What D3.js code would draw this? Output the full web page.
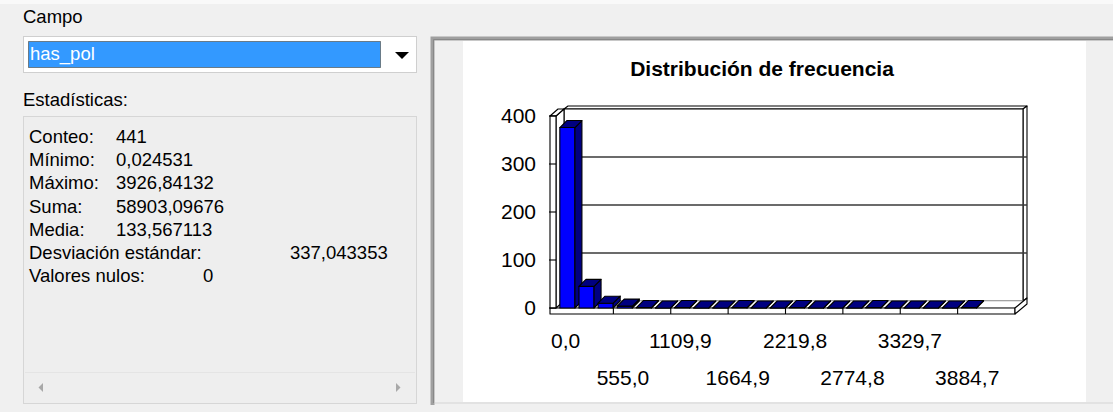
<!DOCTYPE html>
<head>
  <meta charset="utf-8">
  <script type="text/javascript" src="https://cdnjs.cloudflare.com/ajax/libs/d3/7.8.5/d3.min.js"></script>
  <style>
    body { margin: 0; background: #f0f0f0; }
    svg { display: block; font-family: "Liberation Sans", Arial, sans-serif; }
  </style>
</head>
<body>
  <script>

  // frequency counts per bin (441 values in total)
  var counts = [376, 45, 10, 4, 1, 0, 1, 0, 0, 1, 0, 0, 1, 0, 0, 0, 1, 0, 0, 0, 0, 1]
  var slots = 24
  var yTicks = [0, 100, 200, 300, 400]
  var xTickLabels = ["0,0", "555,0", "1109,9", "1664,9", "2219,8", "2774,8", "3329,7", "3884,7"]

  var statNames = ["Conteo:", "Mínimo:", "Máximo:", "Suma:", "Media:", "Desviación estándar:", "Valores nulos:"]
  var statValues = ["441", "0,024531", "3926,84132", "58903,09676", "133,567113", "337,043353", "0"]

  var width = 1113
  var height = 412

  var svg = d3.select("body")
              .append("svg")
              .attr("width", width)
              .attr("height", height)

  svg.append("rect")
     .attr("width", width)
     .attr("height", height)
     .attr("fill", "#f0f0f0")
  svg.append("rect")
     .attr("width", width)
     .attr("height", 4)
     .attr("fill", "#f9f9f9")

  // ---- left panel
  var left = svg.append("g").style("font-size", "18.5px")

  left.append("text").attr("x", 23).attr("y", 23).text("Campo")

  left.append("rect")
      .attr("x", 23.5).attr("y", 36.5).attr("width", 393).attr("height", 36)
      .attr("fill", "#fff").attr("stroke", "#cfcfcf")
  left.append("rect")
      .attr("x", 28.5).attr("y", 41.5).attr("width", 352).attr("height", 26)
      .attr("fill", "#3399ff").attr("stroke", "#3a2a10")
      .attr("stroke-dasharray", "1,1")
  left.append("text").attr("x", 30).attr("y", 60).attr("fill", "#fff").text("has_pol")
  left.append("path")
      .attr("d", "M395,52 L409,52 L402,59 Z")
      .attr("fill", "#000")

  left.append("text").attr("x", 23).attr("y", 106).text("Estadísticas:")

  left.append("rect")
      .attr("x", 23.5).attr("y", 116.5).attr("width", 393).attr("height", 287)
      .attr("fill", "#eeeeee").attr("stroke", "#d6d6d6")
  left.append("line")
      .attr("x1", 25).attr("x2", 415).attr("y1", 372.5).attr("y2", 372.5)
      .attr("stroke", "#e4e4e4")
  left.append("path").attr("d", "M43,383 L43,392 L38.5,387.5 Z").attr("fill", "#a8a8a8")
  left.append("path").attr("d", "M396,383 L396,392 L400.5,387.5 Z").attr("fill", "#a8a8a8")

  var valueX = [116, 116, 116, 116, 116, 290, 203]
  statNames.forEach(function(name, i) {
    var yy = 143 + i * 23.2
    left.append("text").attr("x", 29).attr("y", yy).text(name)
    left.append("text").attr("x", valueX[i]).attr("y", yy).text(statValues[i])
  })

  // ---- chart frame
  svg.append("rect")
     .attr("x", 430).attr("y", 36).attr("width", width - 430).attr("height", 369)
     .attr("fill", "#f0f0f0")
  svg.append("path")
     .attr("d", "M432.5," + 405 + " L432.5,38.5 L" + width + ",38.5")
     .attr("fill", "none").attr("stroke", "#a0a0a0").attr("stroke-width", 4)
  svg.append("path")
     .attr("d", "M433.5,403 L433.5,39.5 L" + width + ",39.5")
     .attr("fill", "none").attr("stroke", "#888").attr("stroke-width", 1)
  svg.append("line")
     .attr("x1", 435).attr("x2", width).attr("y1", 403).attr("y2", 403)
     .attr("stroke", "#e2e2e2").attr("stroke-width", 2)
  svg.append("rect")
     .attr("x", 463).attr("y", 41).attr("width", 623).attr("height", 361)
     .attr("fill", "#fff")

  svg.append("text")
     .attr("x", 762).attr("y", 76)
     .attr("text-anchor", "middle")
     .attr("font-weight", "bold")
     .style("font-size", "21px")
     .text("Distribución de frecuencia")

  // ---- 3d plot
  var x = d3.scaleBand()
            .domain(d3.range(slots))
            .range([556, 1015])
  var y = d3.scaleLinear()
            .domain([0, 400])
            .range([308, 116])

  var dx = 8, dy = -7          // depth of the plot box
  var bdx = 7, bdy = -7        // depth of a bar
  var wall = 6
  var x0 = x.range()[0], x1 = x.range()[1]
  var y0 = y(0), yTop = y(400)

  var g = svg.append("g")
             .attr("stroke", "#000")
             .attr("stroke-width", 1.1)
             .attr("stroke-linejoin", "round")

  function poly(pts, fill, stroke) {
    return g.append("path")
            .attr("d", "M" + pts.map(function(p) { return p.join(",") }).join("L") + "Z")
            .attr("fill", fill)
            .attr("stroke", stroke || "#000")
  }

  // back wall (with a thin slab)
  poly([[x0 + dx, yTop + dy], [x1 + dx, yTop + dy], [x1 + dx + 4, yTop + dy - 3], [x0 + dx + 4, yTop + dy - 3]], "#fff")
  poly([[x1 + dx, yTop + dy], [x1 + dx + 4, yTop + dy - 3], [x1 + dx + 4, y0 + dy - 3], [x1 + dx, y0 + dy]], "#fff")
  poly([[x0 + dx, yTop + dy], [x1 + dx, yTop + dy], [x1 + dx, y0 + dy], [x0 + dx, y0 + dy]], "#fff")

  // gridlines on the back wall
  g.selectAll("line.grid")
   .data(yTicks.slice(1, -1))
   .enter()
   .append("line")
   .attr("class", "grid")
   .attr("x1", x0 + dx)
   .attr("x2", x1 + dx + 4)
   .attr("y1", function(d) { return y(d) + dy })
   .attr("y2", function(d) { return y(d) + dy })
   .attr("stroke", "#3a3a3a")
   .attr("stroke-width", 1.6)

  // floor
  poly([[x0, y0], [x1, y0], [x1 + dx, y0 + dy], [x0 + dx, y0 + dy]], "#fff", "#c8c8c8")
  poly([[x0 - wall, y0], [x1, y0], [x1, y0 + wall], [x0 - wall, y0 + wall]], "#fff")
  poly([[x1, y0], [x1 + dx + 4, y0 + dy - 3], [x1 + dx + 4, y0 + dy - 3 + wall], [x1, y0 + wall]], "#fff")
  g.selectAll("line.div")
   .data(d3.range(3, slots, 3))
   .enter()
   .append("line")
   .attr("class", "div")
   .attr("x1", function(d) { return x(d) })
   .attr("x2", function(d) { return x(d) })
   .attr("y1", y0)
   .attr("y2", y0 + wall)

  // left wall
  poly([[x0, yTop], [x0 + dx, yTop + dy], [x0 + dx, y0 + dy], [x0, y0]], "#fff")
  poly([[x0 - wall, yTop], [x0, yTop], [x0 + dx, yTop + dy], [x0 - wall + dx, yTop + dy]], "#fff")
  poly([[x0 - wall, yTop], [x0, yTop], [x0, y0], [x0 - wall, y0]], "#fff")
  g.selectAll("line.tick")
   .data(yTicks)
   .enter()
   .append("line")
   .attr("class", "tick")
   .attr("x1", x0 - wall - 1)
   .attr("x2", x0)
   .attr("y1", function(d) { return y(d) })
   .attr("y2", function(d) { return y(d) })

  // bars
  var bw = x.bandwidth() * 0.79
  var off = x.bandwidth() * 0.2
  var bars = g.selectAll("g.bar")
              .data(counts)
              .enter()
              .append("g")
              .attr("class", "bar")

  bars.each(function(d, i) {
    var b = d3.select(this)
    var bx = x(i) + off
    var by = y(d)
    function p(pts, fill) {
      b.append("path")
       .attr("d", "M" + pts.map(function(q) { return q.join(",") }).join("L") + "Z")
       .attr("fill", fill)
    }
    p([[bx, by], [bx + bw, by], [bx + bw, y0], [bx, y0]], "#0000ff")
    p([[bx + bw, by], [bx + bw + bdx, by + bdy], [bx + bw + bdx, y0 + bdy], [bx + bw, y0]], "#000080")
    p([[bx, by], [bx + bw, by], [bx + bw + bdx, by + bdy], [bx + bdx, by + bdy]], "#000080")
  })

  // axes labels
  var yAxis = svg.append("g")
                 .attr("transform", "translate(" + (x0 - wall) + ",0)")
                 .call(d3.axisLeft(y).tickValues(yTicks).tickSize(0).tickPadding(14))
  yAxis.select(".domain").remove()
  yAxis.selectAll("text")
       .attr("fill", "#000")
       .style("font-size", "21px")
       .style("font-family", "'Liberation Sans', Arial, sans-serif")

  var xAxis = svg.append("g")
                 .attr("transform", "translate(0," + (y0 + wall) + ")")
                 .call(d3.axisBottom(x)
                         .tickValues(d3.range(0, slots, 3))
                         .tickFormat(function(d, i) { return xTickLabels[i] })
                         .tickSize(0))
  xAxis.select(".domain").remove()
  xAxis.selectAll("text")
       .attr("fill", "#000")
       .attr("dy", 0)
       .attr("y", function(d, i) { return i % 2 ? 71 : 34 })
       .style("font-size", "21px")
       .style("font-family", "'Liberation Sans', Arial, sans-serif")

  </script>
</body>
